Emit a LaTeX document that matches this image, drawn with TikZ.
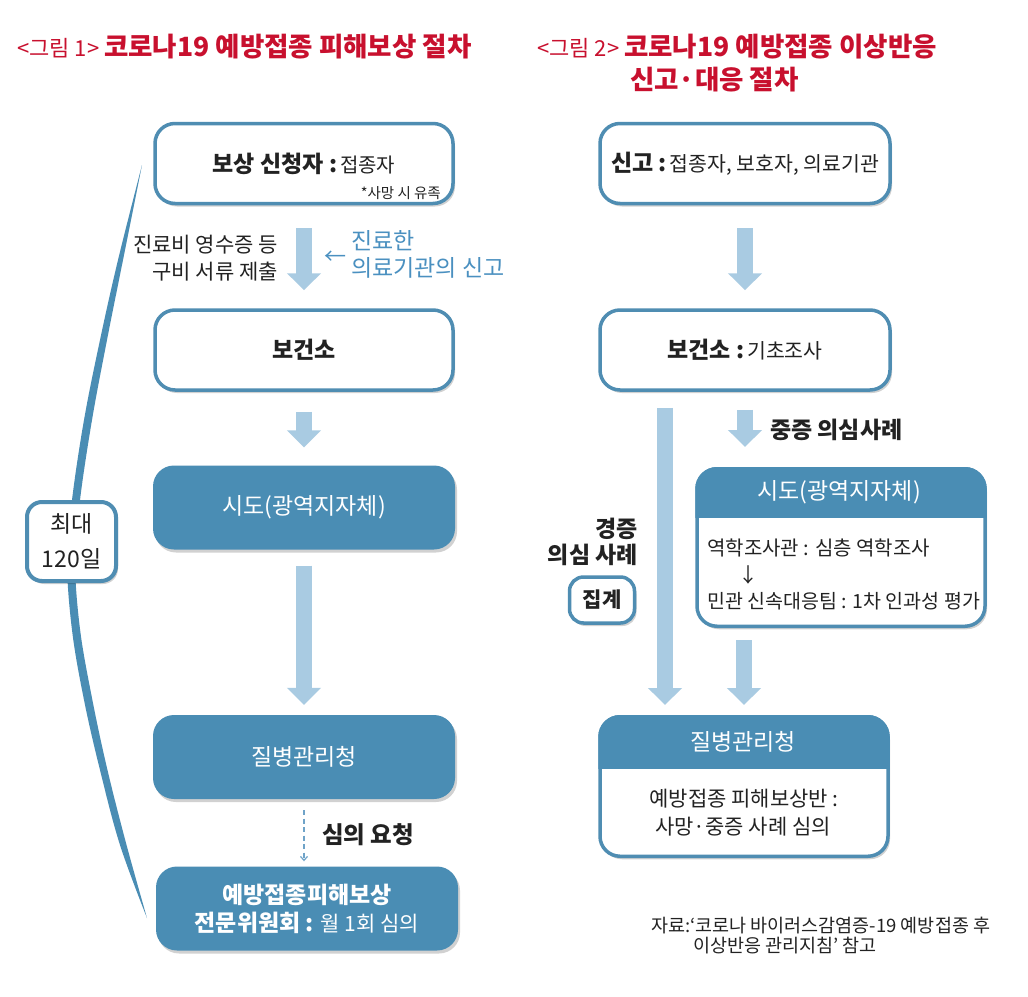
\documentclass[tikz,border=0pt]{standalone}
\usepackage{fontspec}
\setmainfont{Noto Sans CJK KR}
\usetikzlibrary{arrows.meta,shadows}
\definecolor{boxblue}{HTML}{4A8DB4}
\definecolor{lineblue}{HTML}{4F8DB2}
\definecolor{arrowblue}{HTML}{A9CBE2}
\definecolor{titlered}{HTML}{C8102E}
\definecolor{textblue}{HTML}{4A90C0}
\definecolor{dashblue}{HTML}{6FA3C8}
\definecolor{txt}{HTML}{222222}
\newcommand{\fsz}[1]{\fontsize{#1}{#1}\selectfont}
\begin{document}
\begin{tikzpicture}[x=1pt,y=-1pt,
  shad/.style={drop shadow={shadow xshift=2pt,shadow yshift=-3pt,fill=black,opacity=0.18}},
  wbox/.style={shad,draw=lineblue,line width=3.5pt,fill=white,rounded corners=20pt,minimum width=298pt,minimum height=80pt,inner sep=0pt,text=txt,align=center},
  fbox/.style={shad,fill=boxblue,rounded corners=21pt,minimum width=302pt,minimum height=84pt,inner sep=0pt,text=white,align=center},
  barrow/.style={draw=arrowblue,line width=16pt,-{Triangle[width=33pt,length=17pt]}},
  darrow/.style={draw=dashblue,line width=1.2pt,dash pattern=on 5pt off 3.5pt,-{Straight Barb[length=4pt,width=7pt]}},
  lbl/.style={inner sep=0pt,text=txt},
]
\useasboundingbox (0,0) rectangle (1028,996);
\fill[white] (0,0) rectangle (1028,996);

% ---------- titles ----------
\node[lbl,anchor=west,text=titlered] (t1) at (17,47) {{\fsz{22}<그림 1> }{\fsz{26.5}\bfseries 코로나19 예방접종 피해보상 절차}};
\node[lbl,anchor=west,text=titlered] (t2) at (537,47) {{\fsz{22}<그림 2> }{\fsz{26.5}\bfseries 코로나19 예방접종 이상반응}};
\node[lbl,anchor=west,text=titlered] (t2b) at (630,80) {\fsz{26.5}\bfseries 신고·대응 절차};

% ---------- left column ----------
\fill[boxblue] plot[smooth,tension=0.6] coordinates {(142,165) (118,260) (100,340) (84,420) (72,500) (67,560) (72,630) (84,700) (100,770) (120,845) (147,918)}
  -- plot[smooth,tension=0.6] coordinates {(147,918) (126,843) (107,768) (92,698) (80,629) (75,560) (80,500) (92,420) (107,340) (123,260) (142,165)} -- cycle;
\node[shad,draw=lineblue,line width=4pt,fill=white,rounded corners=15pt,minimum width=89pt,minimum height=79pt,inner sep=0pt,align=center,text=txt,font=\fontsize{23}{35}\selectfont] (max) at (71.5,541.5) {최대\\120일};

\node[wbox] (L1) at (304,163.5) {{\fsz{23}\bfseries 보상 신청자 :} {\fsz{20}접종자}};
\node[lbl,anchor=east] (L1n) at (441,193) {\fsz{14.5}*사망 시 유족};
\node[wbox] (L2) at (304,350) {\fsz{23}\bfseries 보건소};
\node[fbox] (L3) at (304,507.5) {\fsz{23}시도(광역지자체)};
\node[fbox] (L4) at (304,757) {\fsz{23}질병관리청};
\node[fbox,font=\fontsize{23}{28}\selectfont\bfseries] (L5) at (307,908.5) {예방접종피해보상\\전문위원회 : {\mdseries\fsz{21}월 1회 심의}};

\node[lbl,anchor=east] (lt1) at (278,245) {\fsz{21}진료비 영수증 등};
\node[lbl,anchor=east] (lt2) at (278,272) {\fsz{21}구비 서류 제출};
\node[lbl,text=textblue] (la) at (335,258) {\fsz{22}←};
\node[lbl,anchor=west,text=textblue] (lb1) at (351,241) {\fsz{23}진료한};
\node[lbl,anchor=west,text=textblue] (lb2) at (351,268) {\fsz{23}의료기관의 신고};
\node[lbl,anchor=west] (ldash) at (322,835) {\fsz{23.5}\bfseries 심의 요청};

\draw[barrow,shorten <=23pt,shorten >=18pt] (L1) -- (L2);
\draw[barrow,shorten <=20pt,shorten >=18pt] (L2) -- (L3);
\draw[barrow,shorten <=16pt,shorten >=10pt] (L3) -- (L4);
\draw[darrow,shorten <=11pt,shorten >=5pt] (L4.south) -- (L4.south |- L5.north);

% ---------- right column ----------
\node[wbox,minimum width=290pt] (R1) at (745,163.5) {{\fsz{23}\bfseries 신고 :} {\fsz{20.5}접종자, 보호자, 의료기관}};
\node[wbox,minimum width=290pt] (R2) at (745,350) {{\fsz{23}\bfseries 보건소 :} {\fsz{20.5}기초조사}};
\node[wbox,minimum width=288pt,minimum height=157.5pt] (R3) at (841,547.5) {};
\begin{scope}
\clip (685,455) rectangle (1000,517);
\fill[boxblue,rounded corners=21.75pt] (R3.north west) rectangle (R3.south east);
\end{scope}
\node[lbl,text=white] (R3h) at (839,492) {\fsz{23}시도(광역지자체)};
\node[lbl,anchor=west] (r3a) at (707,548) {\fsz{20}역학조사관 : 심층 역학조사};
\node[lbl] (r3b) at (748,575) {\fsz{20}↓};
\node[lbl,anchor=west] (r3c) at (707,601) {\fsz{19.5}민관 신속대응팀 : 1차 인과성 평가};

\node[wbox,minimum width=288pt,minimum height=139.5pt] (R4) at (744,786.5) {};
\begin{scope}
\clip (590,705) rectangle (900,768);
\fill[boxblue,rounded corners=21.75pt] (R4.north west) rectangle (R4.south east);
\end{scope}
\node[lbl,text=white] (R4h) at (743,742) {\fsz{23}질병관리청};
\node[lbl] (r4a) at (744,799) {\fsz{21}예방접종 피해보상반 :};
\node[lbl] (r4b) at (743,827) {\fsz{21}사망·중증 사례 심의};

\node[lbl,anchor=east] (mc1) at (638,529) {\fsz{23}\bfseries 경증};
\node[lbl,anchor=east] (mc2) at (638,555) {\fsz{23}\bfseries 의심 사례};
\node[shad,draw=lineblue,line width=3.5pt,fill=white,rounded corners=14pt,minimum width=65pt,minimum height=46pt,inner sep=0pt,text=txt] (agg) at (602,600) {\fsz{21}\bfseries 집계};
\node[lbl,anchor=west] (lsev) at (770,430) {\fsz{23}\bfseries 중증 의심사례};

\coordinate (xa) at (665,0);
\draw[barrow,shorten <=23pt,shorten >=18pt] (R1) -- (R2);
\draw[barrow,shorten <=16pt,shorten >=10pt] (R2.south -| xa) -- (R4.north -| xa);
\draw[barrow,shorten <=18pt,shorten >=20pt] (R2.south) -- (R2.south |- R3.north);
\draw[barrow,shorten <=12pt,shorten >=10pt] (R4.north |- R3.south) -- (R4.north);

\node[lbl,anchor=west] (src1) at (651,926) {\fsz{18.5}자료:‘코로나 바이러스감염증-19 예방접종 후};
\node[lbl,anchor=west] (src2) at (693,946) {\fsz{18.5}이상반응 관리지침’ 참고};
\end{tikzpicture}
\end{document}
